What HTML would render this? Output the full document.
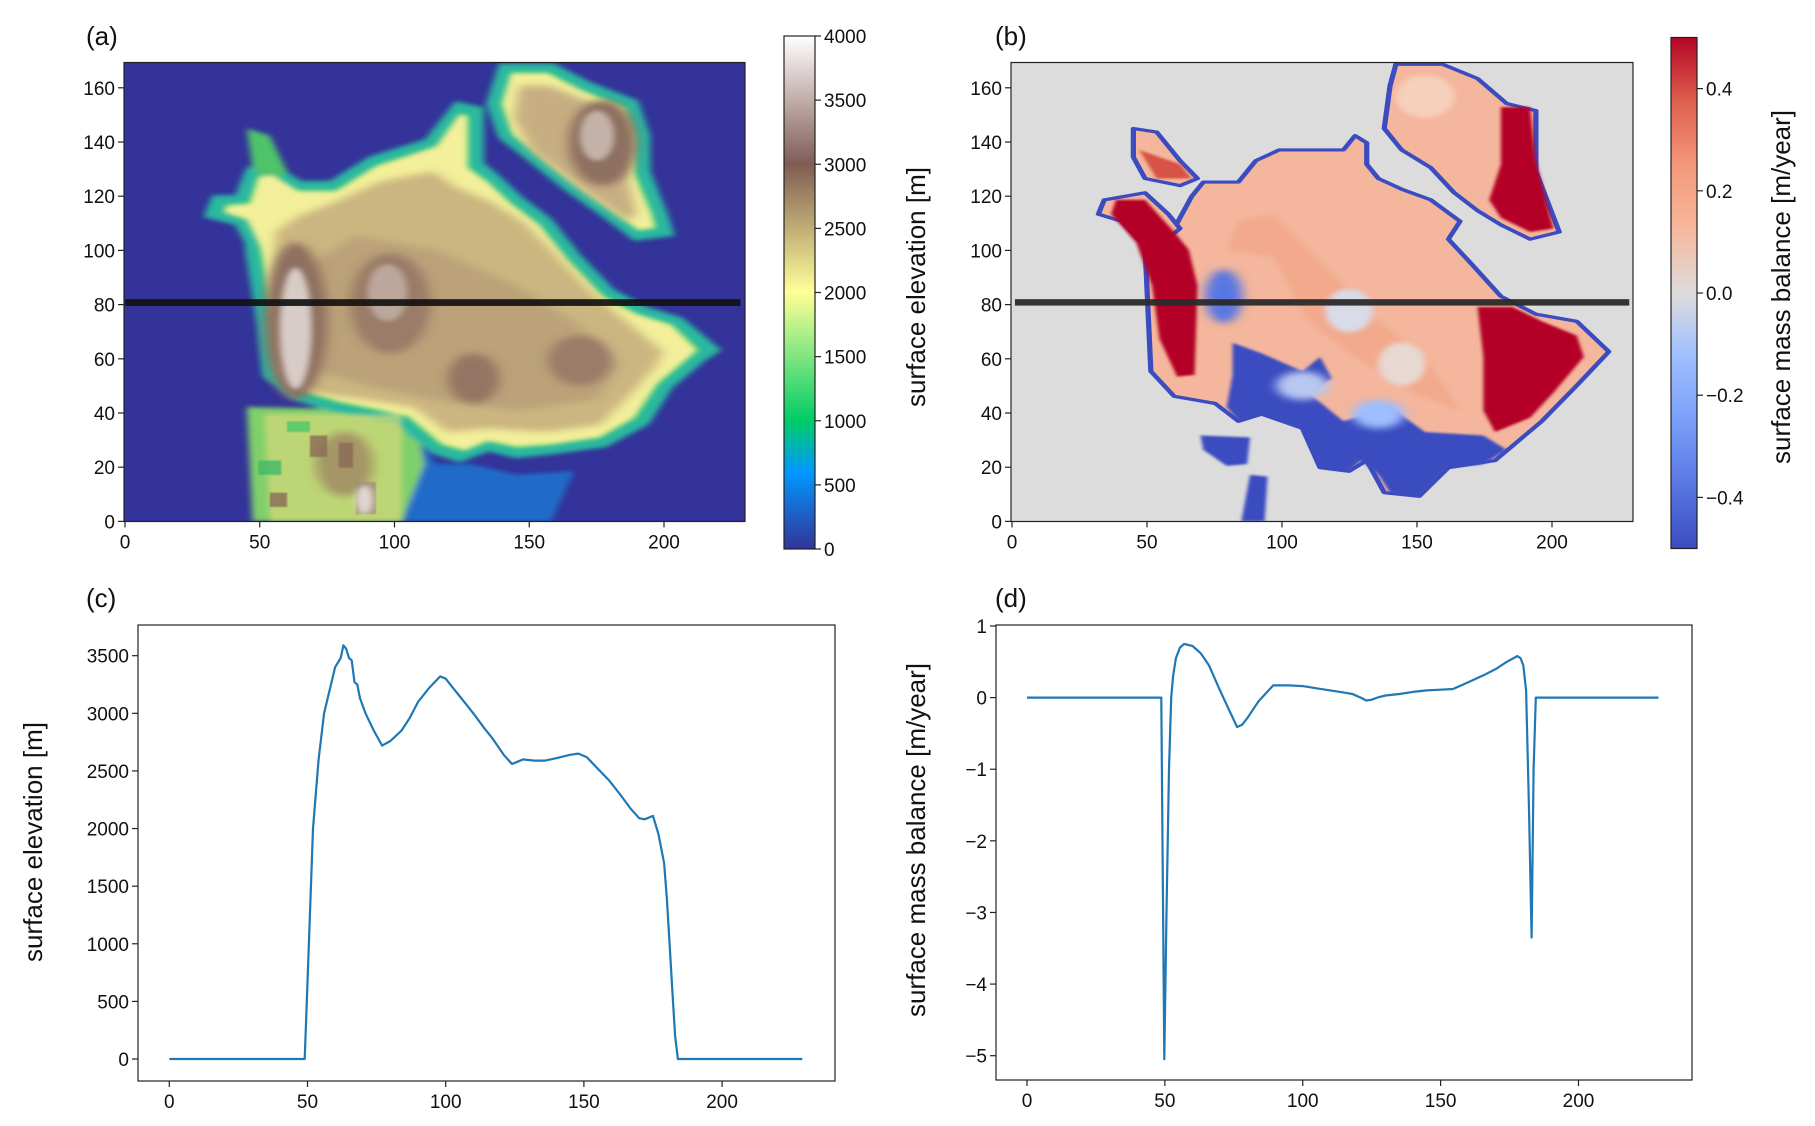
<!DOCTYPE html>
<html><head><meta charset="utf-8"><style>
html,body{margin:0;padding:0;background:#fff}
svg{display:block}
text{font-family:"Liberation Sans",sans-serif;fill:#111}
</style></head><body>
<svg id="fig" xmlns="http://www.w3.org/2000/svg" width="1815" height="1126" viewBox="0 0 1815 1126">
<defs>
<filter id="bl6" x="-20%" y="-20%" width="140%" height="140%"><feGaussianBlur stdDeviation="6"/></filter>
<filter id="bl3" x="-20%" y="-20%" width="140%" height="140%"><feGaussianBlur stdDeviation="3"/></filter>
<filter id="bl2" x="-20%" y="-20%" width="140%" height="140%"><feGaussianBlur stdDeviation="1.5"/></filter>
<filter id="bl10" x="-30%" y="-30%" width="160%" height="160%"><feGaussianBlur stdDeviation="10"/></filter>
<clipPath id="clipA"><rect x="124" y="62.5" width="621" height="459"/></clipPath>
<clipPath id="clipB"><rect x="1011" y="62.5" width="622" height="459"/></clipPath>
<linearGradient id="terrainGrad" x1="0" y1="1" x2="0" y2="0">
<stop offset="0" stop-color="#333399"/><stop offset="0.15" stop-color="#0099ff"/><stop offset="0.25" stop-color="#00cc66"/><stop offset="0.5" stop-color="#ffff99"/><stop offset="0.75" stop-color="#805c54"/><stop offset="1" stop-color="#ffffff"/>
</linearGradient>
<linearGradient id="cwGrad" x1="0" y1="1" x2="0" y2="0">
<stop offset="0" stop-color="#3b4cc0"/><stop offset="0.125" stop-color="#5977e3"/><stop offset="0.25" stop-color="#7b9ff9"/><stop offset="0.375" stop-color="#9ebeff"/><stop offset="0.5" stop-color="#dddcdc"/><stop offset="0.625" stop-color="#f7b89c"/><stop offset="0.75" stop-color="#f4987a"/><stop offset="0.875" stop-color="#de604d"/><stop offset="1" stop-color="#b40426"/>
</linearGradient>
</defs>

<!-- Panel a map -->
<g clip-path="url(#clipA)">
<rect x="124" y="62.5" width="621" height="459" fill="#333399"/>
<g transform="scale(0.574,0.357)">
 <g filter="url(#bl6)">
  <path d="M700,1180 L760,1300 L820,1300 L900,1330 L1000,1320 L960,1460 L700,1460 Z" fill="#1a7fd8" opacity="0.75"/>
  <path d="M430,1140 L720,1150 L740,1300 L700,1460 L440,1460 Z" fill="#7fd06a"/>
  <path d="M440,700 L460,900 L470,1050 L520,1110 L580,1140 L640,1160 L700,1180 L760,1260 L800,1280 L850,1250 L900,1270 L960,1260 L1050,1240 L1120,1180 L1160,1080 L1220,1000 L1240,980 L1180,900 L1120,870 L1060,820 L1000,720 L950,620 L900,560 L860,500 L830,460 L830,310 L800,300 L750,400 L650,450 L580,520 L520,520 L470,470 L440,480 L420,560 L380,560 L370,600 L420,620 L440,680 Z" fill="#2ec46a" stroke="#29b8a0" stroke-width="26"/>
  <path d="M880,190 L960,190 L1020,240 L1100,290 L1120,380 L1120,480 L1150,600 L1160,650 L1110,660 L1060,600 L990,520 L920,430 L880,380 L860,290 Z" fill="#2ec46a" stroke="#29b8a0" stroke-width="26"/>
  <path d="M430,360 L470,380 L500,480 L470,520 L440,470 Z" fill="#4fc26a"/>
 </g>
 <g filter="url(#bl6)">
  <path d="M455,700 L475,900 L485,1040 L530,1095 L590,1125 L650,1145 L710,1165 L770,1245 L810,1262 L850,1235 L900,1252 L960,1245 L1045,1225 L1105,1170 L1145,1075 L1205,995 L1215,980 L1170,910 L1110,880 L1050,830 L990,730 L940,630 L890,570 L850,510 L815,470 L815,325 L800,320 L760,410 L655,465 L585,535 L520,535 L475,490 L450,495 L435,570 L395,575 L390,595 L430,615 L450,680 Z" fill="#f3ef9a"/>
  <path d="M890,205 L955,205 L1012,252 L1088,302 L1105,385 L1105,485 L1135,600 L1142,638 L1112,645 L1065,590 L995,510 L930,425 L892,375 L874,290 Z" fill="#f3ef9a"/>
  <path d="M460,1160 L700,1160 L700,1460 L470,1460 Z" fill="#d7d87a" opacity="0.7"/>
 </g>
 <g filter="url(#bl10)">
  <path d="M480,720 L490,1040 L545,1100 L640,1120 L720,1140 L780,1210 L850,1200 L950,1210 L1045,1190 L1095,1110 L1140,1030 L1155,985 L1095,905 L1035,825 L975,725 L915,625 L855,565 L795,525 L755,480 L660,510 L585,565 L520,605 L480,650 Z" fill="#cbb580"/>
  <path d="M905,240 L958,240 L1070,315 L1090,480 L1108,595 L1095,620 L1022,540 L925,420 L895,330 Z" fill="#c7ae82"/>
  <path d="M520,760 L530,1030 L640,1080 L760,1120 L900,1150 L1040,1120 L1080,1020 L1000,900 L900,800 L760,700 L620,660 Z" fill="#b49a76" opacity="0.7"/>
 </g>
 <g filter="url(#bl10)">
  <ellipse cx="515" cy="900" rx="55" ry="220" fill="#8e7060"/>
  <ellipse cx="680" cy="850" rx="70" ry="140" fill="#9a7c68"/>
  <ellipse cx="825" cy="1060" rx="45" ry="70" fill="#947463"/>
  <ellipse cx="1010" cy="1010" rx="55" ry="70" fill="#9a7c68"/>
  <ellipse cx="1050" cy="400" rx="60" ry="120" fill="#8e7060"/>
  <ellipse cx="600" cy="1300" rx="50" ry="90" fill="#9a7a60" opacity="0.7"/>
 </g>
 <g filter="url(#bl2)" opacity="0.8">
  <rect x="540" y="1220" width="30" height="60" fill="#8a6a55"/>
  <rect x="590" y="1240" width="25" height="70" fill="#8a6a55"/>
  <rect x="620" y="1350" width="35" height="90" fill="#a08a7a"/>
  <rect x="470" y="1380" width="30" height="40" fill="#8a6a55"/>
  <rect x="500" y="1180" width="40" height="30" fill="#4cc86a"/>
  <rect x="450" y="1290" width="40" height="40" fill="#40b868"/>
 </g>
 <g filter="url(#bl6)">
  <ellipse cx="515" cy="920" rx="28" ry="170" fill="#d8ccc8"/>
  <ellipse cx="675" cy="820" rx="35" ry="80" fill="#bca79c"/>
  <ellipse cx="1040" cy="380" rx="30" ry="70" fill="#c4b2a8"/>
  <ellipse cx="635" cy="1400" rx="15" ry="40" fill="#e0d6d2"/>
 </g>
 <rect x="218" y="838" width="1072" height="19" fill="#111" opacity="0.92"/>
</g>
</g>
<rect x="124" y="62.5" width="621" height="459" fill="none" stroke="#222" stroke-width="1.2"/>

<!-- Panel b map -->
<g clip-path="url(#clipB)">
<rect x="1011" y="62.5" width="622" height="459" fill="#dddcdc"/>
<g transform="translate(900,0) scale(0.5834,0.357)">
 <g stroke="#3b4cc0" stroke-width="9" stroke-linejoin="round" fill="#f4b69c">
  <path d="M420,690 L430,1040 L470,1110 L540,1130 L580,1180 L620,1160 L690,1200 L720,1310 L770,1320 L800,1290 L830,1380 L890,1390 L940,1310 L1020,1290 L1100,1180 L1160,1080 L1215,985 L1160,900 L1090,880 L1030,830 L980,740 L940,670 L960,620 L910,560 L860,530 L820,500 L800,460 L800,400 L780,380 L760,420 L700,420 L650,420 L610,450 L580,510 L520,510 L500,550 L470,640 Z"/>
  <path d="M350,560 L420,540 L460,600 L480,640 L450,680 L420,690 L380,620 L340,600 Z"/>
  <path d="M400,360 L440,370 L480,450 L510,500 L480,520 L420,500 L400,440 Z"/>
  <path d="M850,180 L930,180 L990,220 L1040,290 L1090,310 L1090,480 L1130,650 L1080,670 L1030,630 L990,590 L950,540 L910,470 L860,420 L830,360 L840,240 Z"/>
 </g>
 <g filter="url(#bl6)">
  <path d="M560,700 L640,720 L700,900 L780,1000 L880,1100 L960,1150 L900,1000 L820,900 L760,800 L700,700 L640,600 L580,620 Z" fill="#f1a688" opacity="0.8"/>
  <ellipse cx="770" cy="870" rx="40" ry="60" fill="#d8dbe8"/>
  <ellipse cx="860" cy="1020" rx="40" ry="60" fill="#e7d8d2"/>
  <ellipse cx="900" cy="270" rx="50" ry="60" fill="#f7cfbd"/>
 </g>
 <g fill="#b40426" filter="url(#bl3)">
  <path d="M370,560 L420,560 L470,650 L495,700 L510,800 L505,1050 L475,1055 L445,950 L432,800 L405,680 L362,600 Z"/>
  <path d="M990,860 L1050,860 L1100,900 L1160,940 L1172,1000 L1120,1100 L1080,1170 L1020,1210 L1000,1150 L1000,1000 Z"/>
  <path d="M1030,300 L1080,300 L1090,450 L1120,640 L1080,650 L1030,610 L1010,560 L1030,460 Z"/>
  <path d="M410,420 L480,460 L500,500 L440,500 Z" fill="#d65244"/>
 </g>
 <g fill="#3b4cc0" filter="url(#bl3)">
  <path d="M570,960 L620,990 L690,1040 L720,1000 L740,1060 L700,1100 L760,1180 L840,1140 L900,1210 L1000,1220 L1040,1260 L1000,1300 L940,1310 L890,1390 L840,1380 L820,1330 L790,1290 L770,1320 L720,1310 L690,1200 L620,1160 L580,1180 L560,1140 L570,1050 Z"/>
  <path d="M515,1220 L600,1225 L595,1300 L560,1305 L520,1260 Z"/>
  <path d="M600,1330 L630,1335 L625,1460 L585,1460 Z"/>
 </g>
 <g filter="url(#bl10)">
  <ellipse cx="555" cy="830" rx="32" ry="75" fill="#5977e3"/>
  <ellipse cx="690" cy="1080" rx="45" ry="40" fill="#b9c8f0"/>
  <ellipse cx="820" cy="1160" rx="45" ry="40" fill="#9ebeff"/>
 </g>
 <rect x="197" y="838" width="1053" height="18" fill="#2a2a2a" opacity="0.95"/>
</g>
</g>
<rect x="1011" y="62.5" width="622" height="459" fill="none" stroke="#222" stroke-width="1.2"/>

<!-- Colorbars -->
<rect x="784" y="36" width="31" height="513" fill="url(#terrainGrad)" stroke="#222" stroke-width="1.2"/>
<rect x="1671" y="37.5" width="26" height="511" fill="url(#cwGrad)" stroke="#222" stroke-width="1.2"/>

<!-- Panel frames c,d -->
<rect x="138" y="625" width="697" height="456" fill="none" stroke="#222" stroke-width="1.2"/>
<rect x="996" y="625" width="696" height="455" fill="none" stroke="#222" stroke-width="1.2"/>

<!-- Panel letters -->
<text x="86" y="45" font-size="26">(a)</text>
<text x="995" y="45" font-size="26">(b)</text>
<text x="86" y="607" font-size="26">(c)</text>
<text x="995" y="607" font-size="26">(d)</text>

<!-- Axis titles -->
<text transform="translate(925,287) rotate(-90)" text-anchor="middle" font-size="26">surface elevation [m]</text>
<text transform="translate(1790,287) rotate(-90)" text-anchor="middle" font-size="26">surface mass balance [m/year]</text>
<text transform="translate(42,842) rotate(-90)" text-anchor="middle" font-size="26">surface elevation [m]</text>
<text transform="translate(925,840) rotate(-90)" text-anchor="middle" font-size="26">surface mass balance [m/year]</text>

<g id="ticks"></g>
<g id="lines"></g>
</svg>
<script>
// ---- Data ----
const mapXTicks = [0, 50, 100, 150, 200];
const mapYTicks = [0, 20, 40, 60, 80, 100, 120, 140, 160];
const elevCbTicks = [0, 500, 1000, 1500, 2000, 2500, 3000, 3500, 4000];
const smbCbTicks = [-0.4, -0.2, 0.0, 0.2, 0.4];
const smbCbLabels = ["\u22120.4", "\u22120.2", "0.0", "0.2", "0.4"];
const lineXTicks = [0, 50, 100, 150, 200];
const elevYTicks = [0, 500, 1000, 1500, 2000, 2500, 3000, 3500];
const smbYTicks = [-5, -4, -3, -2, -1, 0, 1];

const elevX = [0, 20, 40, 49, 50.5, 52, 54, 56, 58, 60, 62, 63, 64, 65, 66, 67, 68, 69, 71, 74, 77, 80, 84, 87, 90, 94, 98, 100, 102, 106, 110, 114, 117, 121, 124, 126, 128, 132, 136, 140, 145, 148, 151, 155, 159, 163, 167, 170, 172, 174, 175, 177, 179, 180, 181, 182, 183, 184, 200, 229];
const elevY = [0, 0, 0, 0, 1000, 2000, 2600, 3000, 3200, 3400, 3480, 3590, 3560, 3480, 3460, 3270, 3250, 3130, 3000, 2850, 2720, 2760, 2850, 2960, 3100, 3220, 3320, 3300, 3240, 3120, 3000, 2870, 2780, 2640, 2560, 2580, 2600, 2590, 2590, 2610, 2640, 2650, 2620, 2520, 2420, 2300, 2170, 2090, 2080, 2100, 2110, 1950, 1700, 1400, 1000, 600, 200, 0, 0, 0];
const smbX = [0, 20, 40, 48.7, 49.8, 50.6, 51.5, 52.3, 53, 54, 55.5, 57, 60, 63, 66, 70, 73, 76.2, 78, 80, 84, 89.3, 95, 100, 105, 110, 115, 118, 121, 123, 125, 127, 130, 135, 140, 145, 150, 154.5, 158, 162, 166, 170, 174, 177.8, 179, 180, 181, 182, 183, 183.7, 184.5, 200, 229];
const smbY = [0, 0, 0, 0, -5.05, -3, -1, 0, 0.3, 0.55, 0.7, 0.75, 0.72, 0.62, 0.45, 0.1, -0.15, -0.41, -0.38, -0.28, -0.05, 0.17, 0.17, 0.16, 0.13, 0.1, 0.07, 0.05, 0.0, -0.04, -0.03, 0.0, 0.03, 0.05, 0.08, 0.1, 0.11, 0.12, 0.18, 0.25, 0.32, 0.4, 0.5, 0.58, 0.55, 0.45, 0.1, -1.5, -3.35, -1, 0, 0, 0];

// ---- Axis functions ----
const aX = v => 125 + v * 2.695;
const bX = v => 1012 + v * 2.70;
const mapY = v => 521.4 - v * 2.71;
const cbAY = v => 549 - v / 4000 * 513;
const cbBY = v => 293 - v * 511;
const cX = v => 169.3 + v * 2.764;
const cY = v => 1059 - v * 0.11523;
const dX = v => 1027 + v * 2.7575;
const dY = v => 1055.7 - (v + 5) * 71.62;

const NS = "http://www.w3.org/2000/svg";
const tg = document.getElementById("ticks");
const lg = document.getElementById("lines");
function mk(tag, attrs, parent) {
  const e = document.createElementNS(NS, tag);
  for (const k in attrs) e.setAttribute(k, attrs[k]);
  parent.appendChild(e);
  return e;
}
function xTick(x, yBase, label, name) {
  const l = mk("line", {x1: x, x2: x, y1: yBase, y2: yBase + 6, stroke: "#222", "stroke-width": 1.2}, tg);
  
  
  const t = mk("text", {x: x, y: yBase + 27, "text-anchor": "middle", "font-size": 19}, tg);
  t.textContent = label;
  
  
}
function yTick(xBase, y, label, name) {
  const l = mk("line", {x1: xBase - 6, x2: xBase, y1: y, y2: y, stroke: "#222", "stroke-width": 1.2}, tg);
  
  
  const t = mk("text", {x: xBase - 9, y: y + 7, "text-anchor": "end", "font-size": 19}, tg);
  t.textContent = label;
  
  
}
function rTick(xBase, y, label, name) {
  const l = mk("line", {x1: xBase, x2: xBase + 6, y1: y, y2: y, stroke: "#222", "stroke-width": 1.2}, tg);
  
  
  const t = mk("text", {x: xBase + 9, y: y + 7, "text-anchor": "start", "font-size": 19}, tg);
  t.textContent = label;
  
  
}
mapXTicks.forEach(v => xTick(aX(v), 521.4, String(v), "map-a-x"));
mapYTicks.forEach(v => yTick(124, mapY(v), String(v), "map-a-y"));
mapXTicks.forEach(v => xTick(bX(v), 521.4, String(v), "map-b-x"));
mapYTicks.forEach(v => yTick(1011, mapY(v), String(v), "map-b-y"));
elevCbTicks.forEach(v => rTick(815, cbAY(v), String(v), "colorbar-a"));
smbCbTicks.forEach((v, i) => rTick(1697, cbBY(v), smbCbLabels[i], "colorbar-b"));
lineXTicks.forEach(v => xTick(cX(v), 1081, String(v), "plot-c-x"));
elevYTicks.forEach(v => yTick(138, cY(v), String(v), "plot-c-y"));
lineXTicks.forEach(v => xTick(dX(v), 1080, String(v), "plot-d-x"));
smbYTicks.forEach(v => yTick(996, dY(v), v < 0 ? "\u2212" + Math.abs(v) : String(v), "plot-d-y"));

function line(xs, ys, fx, fy, name) {
  const d = xs.map((x, i) => (i ? "L" : "M") + fx(x).toFixed(1) + "," + fy(ys[i]).toFixed(1)).join(" ");
  const p = mk("path", {d: d, fill: "none", stroke: "#1f77b4", "stroke-width": 2.2, "stroke-linejoin": "round"}, lg);
  
  
}
line(elevX, elevY, cX, cY, "elevation-profile-line");
line(smbX, smbY, dX, dY, "mass-balance-profile-line");
</script>
</body></html>
